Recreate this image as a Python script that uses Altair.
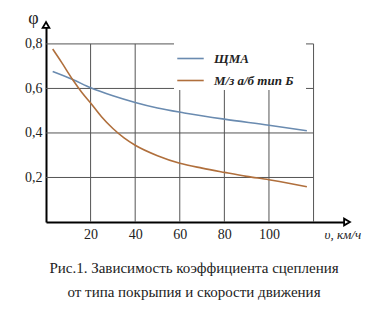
import altair as alt
import pandas as pd

# Data
speed_shma = [3, 12, 20, 30, 40, 50, 62, 80, 100, 117]
phi_shma = [0.676, 0.64, 0.603, 0.567, 0.537, 0.512, 0.49, 0.462, 0.435, 0.41]
speed_mz = [3, 7, 12, 16, 20, 25, 30, 35, 40, 50, 60, 70, 80, 90, 100, 110, 117]
phi_mz = [0.777, 0.717, 0.639, 0.583, 0.535, 0.472, 0.42, 0.378, 0.345, 0.298, 0.264,
          0.242, 0.223, 0.205, 0.19, 0.172, 0.158]
series_names = ["ЩМА", "М/з  а/б  тип  Б"]
series_colors = ["#6a8bb0", "#b06f3c"]

x_ticks = [20, 40, 60, 80, 100]
y_ticks = [0.2, 0.4, 0.6, 0.8]
v_grid = [20, 40, 60, 80, 100, 120]
v_grid_top = [0.8, 0.8, 0.8, 0.6, 0.6, 0.8]
h_grid = [0.2, 0.4, 0.6, 0.8]
x_max, y_max = 135, 0.885
caption = ["Рис.1. Зависимость коэффициента сцепления", "от  типа покрыпия и скорости движения"]

curves = pd.concat([
    pd.DataFrame({"v": speed_shma, "phi": phi_shma, "s": series_names[0], "o": 0}),
    pd.DataFrame({"v": speed_mz, "phi": phi_mz, "s": series_names[1], "o": 1}),
])
vg = pd.DataFrame({"x": v_grid, "y0": [0] * len(v_grid), "y1": v_grid_top})
hg = pd.DataFrame({"y": h_grid, "x0": [0] * len(h_grid), "x1": [120] * len(h_grid)})

xs = alt.Scale(domain=[0, x_max], nice=False, zero=False)
ys = alt.Scale(domain=[0, y_max], nice=False, zero=False)

serif = "Liberation Serif, Times New Roman, serif"

xaxis = alt.Axis(values=x_ticks, grid=False, ticks=False, domainColor="black", domainWidth=2,
                 labelFont=serif, labelFontSize=14, labelColor="#222", labelPadding=5,
                 title="υ, км/ч", titleFont=serif, titleFontSize=13, titleFontStyle="italic",
                 titleFontWeight="normal", titleX=278, titleY=6, titleAlign="left", titleColor="#222")
yaxis = alt.Axis(values=y_ticks, grid=False, ticks=False, domainColor="black", domainWidth=2,
                 labelFont=serif, labelFontSize=14, labelColor="#222", labelPadding=4,
                 labelExpr="replace(format(datum.value, '.1f'), '.', ',')",
                 title="φ", titleFont=serif, titleFontSize=18, titleFontWeight="normal",
                 titleAngle=0, titleX=-13, titleY=2, titleAlign="center", titleColor="#222")

vgrid = alt.Chart(vg).mark_rule(color="#555", strokeWidth=1).encode(
    x=alt.X("x:Q", scale=xs, axis=xaxis), y=alt.Y("y0:Q", scale=ys, axis=yaxis), y2="y1:Q")
hgrid = alt.Chart(hg).mark_rule(color="#555", strokeWidth=1).encode(
    y=alt.Y("y:Q", scale=ys, axis=yaxis), x=alt.X("x0:Q", scale=xs, axis=xaxis), x2="x1:Q")

lines = alt.Chart(curves).mark_line(interpolate="monotone", strokeWidth=1.6).encode(
    x=alt.X("v:Q", scale=xs, axis=xaxis),
    y=alt.Y("phi:Q", scale=ys, axis=yaxis),
    color=alt.Color("s:N", scale=alt.Scale(domain=series_names, range=series_colors),
                    legend=alt.Legend(orient="none", legendX=128, legendY=17, title=None,
                                      symbolType="stroke", symbolSize=700, symbolStrokeWidth=1.6,
                                      labelFont=serif, labelFontSize=13, labelFontStyle="italic",
                                      labelFontWeight="bold", labelColor="#222", labelOffset=9,
                                      rowPadding=-7, fillColor="white", padding=2)),
    order="o:Q",
)

arrows = pd.DataFrame({"x": [0, x_max], "y": [y_max, 0], "shape": ["triangle-up", "triangle-right"]})
arrow_marks = alt.Chart(arrows).mark_point(filled=True, fill="white", stroke="black",
                                           strokeWidth=1.8, size=45, opacity=1).encode(
    x=alt.X("x:Q", scale=xs, axis=xaxis), y=alt.Y("y:Q", scale=ys, axis=yaxis),
    shape=alt.Shape("shape:N", scale=None))

cap1 = alt.Chart(pd.DataFrame({"t": [caption[0]]})).mark_text(
    font=serif, fontSize=15, color="#222", align="center", baseline="middle").encode(
    text="t:N", x=alt.value(148), y=alt.value(243))
cap2 = alt.Chart(pd.DataFrame({"t": [caption[1]]})).mark_text(
    font=serif, fontSize=15, color="#222", align="center", baseline="middle").encode(
    text="t:N", x=alt.value(148), y=alt.value(267))

chart = alt.layer(hgrid, vgrid, lines, arrow_marks, cap1, cap2).properties(
    width=301, height=197,
    autosize=alt.AutoSizeParams(type="none"),
    padding={"left": 46, "top": 25, "right": 42, "bottom": 98},
    background="white",
).configure_view(stroke=None)

chart.save("out.html", embed_options={"renderer": "svg", "actions": False})
